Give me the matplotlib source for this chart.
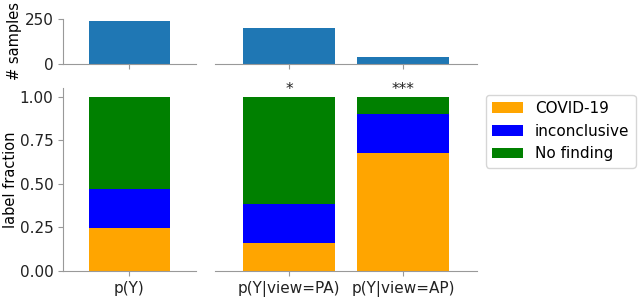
import matplotlib
matplotlib.use("Agg")
import matplotlib.pyplot as plt

# data
labels = ["COVID-19", "inconclusive", "No finding"]
colors = ["orange", "blue", "green"]

left_names = ["p(Y)"]
right_names = ["p(Y|view=PA)", "p(Y|view=AP)"]

left_counts = [239]
right_counts = [199, 40]

# label fractions per bar: COVID-19, inconclusive, No finding
left_frac = [[0.247], [0.222], [0.531]]
right_frac = [[0.161, 0.675], [0.221, 0.225], [0.618, 0.100]]

right_stars = ["*", "***"]

spine_col = "#999999"
fs = 11


def style(ax, show_left):
    ax.spines["top"].set_visible(False)
    ax.spines["right"].set_visible(False)
    ax.spines["left"].set_visible(show_left)
    ax.spines["left"].set_color(spine_col)
    ax.spines["bottom"].set_color(spine_col)
    ax.tick_params(colors=spine_col, labelcolor="#222222", labelsize=fs)
    if not show_left:
        ax.tick_params(axis="y", left=False, labelleft=False)


def stacked(ax, names, fracs):
    x = list(range(len(names)))
    bottom = [0.0] * len(names)
    for f, c, lab in zip(fracs, colors, labels):
        ax.bar(x, f, bottom=bottom, color=c, width=0.8, label=lab)
        bottom = [b + v for b, v in zip(bottom, f)]
    ax.set_xticks(x)
    ax.set_xticklabels(names)


fig = plt.figure(figsize=(6.4, 2.98), dpi=100)

ax_tl = fig.add_axes([0.0984, 0.7852, 0.2078, 0.151])
ax_tr = fig.add_axes([0.3359, 0.7852, 0.4094, 0.151])
ax_bl = fig.add_axes([0.0984, 0.0906, 0.2078, 0.614])
ax_br = fig.add_axes([0.3359, 0.0906, 0.4094, 0.614])

# top row: number of samples
ax_tl.bar([0], left_counts, width=0.8, color="#1f77b4")
ax_tr.bar([0, 1], right_counts, width=0.8, color="#1f77b4")
for ax in (ax_tl, ax_tr):
    ax.set_ylim(0, 250)
    ax.set_yticks([0, 250])
    ax.tick_params(axis="x", labelbottom=False)
ax_tl.set_xticks([0])
ax_tr.set_xticks([0, 1])
ax_tl.set_ylabel("# samples", fontsize=10.5)
ax_tl.yaxis.set_label_coords(-0.31, 0.52)

# bottom row: label fractions
stacked(ax_bl, left_names, left_frac)
stacked(ax_br, right_names, right_frac)
for ax in (ax_bl, ax_br):
    ax.set_ylim(0, 1.05)
    ax.set_yticks([0, 0.25, 0.5, 0.75, 1.0])
    ax.set_yticklabels(["0.00", "0.25", "0.50", "0.75", "1.00"])
ax_bl.set_ylabel("label fraction", fontsize=10.5)
ax_bl.yaxis.set_label_coords(-0.335, 0.5)

for i, s in enumerate(right_stars):
    ax_br.text(i, 1.0, s, ha="center", va="bottom", fontsize=fs, color="#222222")

ax_tl.set_xlim(-0.65, 0.65)
ax_bl.set_xlim(-0.65, 0.65)
ax_tr.set_xlim(-0.65, 1.65)
ax_br.set_xlim(-0.65, 1.65)

style(ax_tl, True)
style(ax_bl, True)
style(ax_tr, False)
style(ax_br, False)

handles, labs = ax_bl.get_legend_handles_labels()
fig.legend(handles, labs, loc="upper left", bbox_to_anchor=(486 / 640, 1 - 95 / 298),
           borderaxespad=0, fontsize=fs)

fig.savefig("out.png", dpi=100)
